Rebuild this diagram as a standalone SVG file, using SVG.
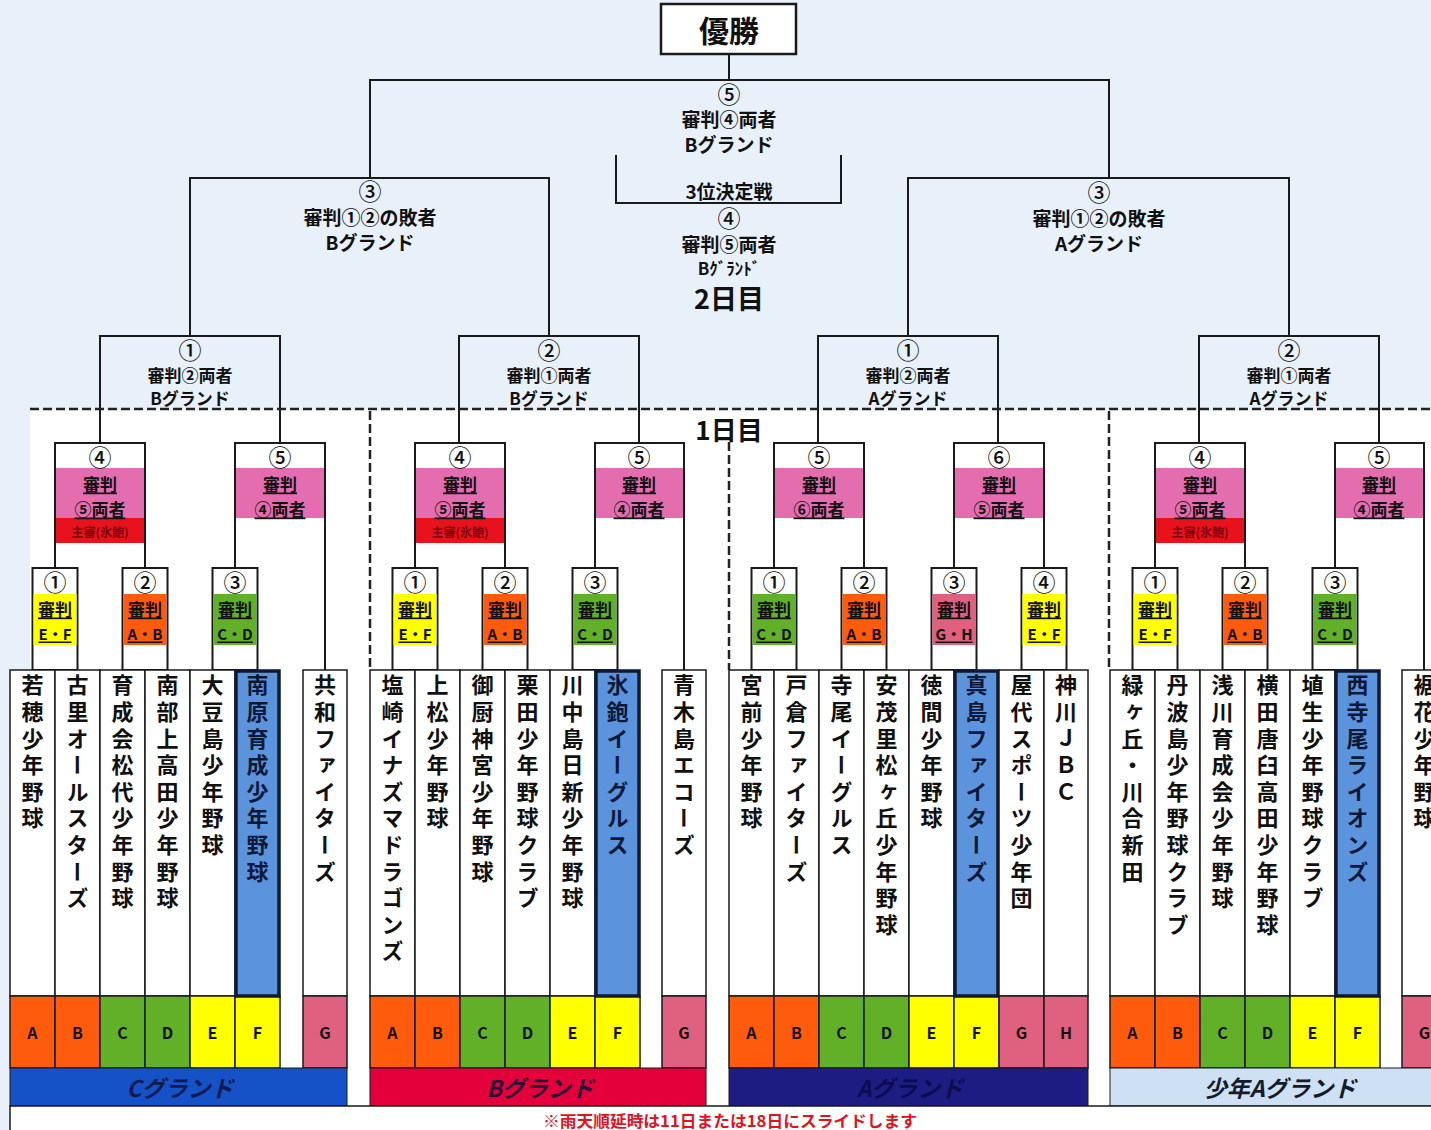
<svg xmlns="http://www.w3.org/2000/svg" width="1431" height="1130" viewBox="0 0 1431 1130">
<style>
.ln{fill:none;stroke:#1a1a1a;stroke-width:2}
.dash{fill:none;stroke:#222;stroke-width:2.5;stroke-dasharray:9 4}
.t{font-family:'Noto Sans CJK JP','Liberation Sans',sans-serif;fill:#111;text-anchor:middle;dominant-baseline:central}
.h{font-size:19px;font-weight:700}
.n{font-size:23px;font-weight:500}
.nb{font-size:23px;font-weight:500}
.box{fill:#fff;stroke:#1a1a1a;stroke-width:2}
.tm{font-family:'Noto Sans CJK JP',sans-serif;font-size:22px;font-weight:700;fill:#111;writing-mode:vertical-rl;letter-spacing:4.6px;text-anchor:start}
.col{fill:#fff;stroke:#1a1a1a;stroke-width:1.5}
.blue{fill:#5b94dc;stroke:#0c1a33;stroke-width:3.5}
.yel{fill:#ffff00}.org{fill:#ff5b0d}.grn{fill:#62b027}.pnk{fill:#e0607f}.mag{fill:#e46db0}.red{fill:#e8121c}
.lb{stroke:#1a1a1a;stroke-width:1.5}
.u{text-decoration:underline}
.b2{font-size:17px;font-weight:700}
.b1{font-size:17px;font-weight:700}
.ef{font-size:15px;font-weight:700}
.lt{font-size:16px;font-weight:700}
.gr{font-size:23px;font-weight:700;font-style:italic}
.sm{font-size:12px;font-weight:700;fill:#7a0010}
</style>
<rect x="0" y="0" width="1431" height="1130" fill="#e8f0f9"/>
<rect x="30" y="410" width="1401" height="720" fill="#ffffff"/>

<g id="connectors">
<path class="ln" d="M729,54 V80 M370,178 V80 H1109 V178"/>
<path class="ln" d="M190,336 V178 H549 V336"/>
<path class="ln" d="M908,336 V178 H1289 V336"/>
<path class="ln" d="M616,155 V203 H841 V155"/>
<path class="ln" d="M100,443 V336 H280 V443"/>
<path class="ln" d="M459,443 V336 H639 V443"/>
<path class="ln" d="M818,443 V336 H998 V443"/>
<path class="ln" d="M1199,443 V336 H1379 V443"/>
<path class="dash" d="M30,409 H1431"/>
<path class="dash" d="M370,411 V670 M729,442 V670 M1109,411 V670"/>
</g>

<g id="champion">
<rect x="661" y="4" width="135" height="50" fill="#fff" stroke="#1a1a1a" stroke-width="2.5"/>
<text class="t" x="729" y="29" font-size="30" font-weight="700">優勝</text>
</g>
<g id="final">
<text class="t n" x="729" y="93">⑤</text>
<text class="t h" x="729" y="118">審判④両者</text>
<text class="t h" x="729" y="143">Bグランド</text>
</g>
<g id="third-place">
<text class="t h" x="729" y="190">3位決定戦</text>
<text class="t n" x="729" y="217">④</text>
<text class="t h" x="729" y="243">審判⑤両者</text>
<text class="t" x="729" y="267" font-size="17" font-weight="700">Bｸﾞﾗﾝﾄﾞ</text>
<text class="t" x="729" y="297" font-size="27" font-weight="700">2日目</text>
</g>
<g id="semi-left">
<text class="t n" x="370" y="190">③</text>
<text class="t h" x="370" y="216">審判①②の敗者</text>
<text class="t h" x="370" y="241">Bグランド</text>
</g>
<g id="semi-right">
<text class="t n" x="1099" y="191">③</text>
<text class="t h" x="1099" y="217">審判①②の敗者</text>
<text class="t h" x="1099" y="242">Aグランド</text>
</g>
<g id="qf1"><text class="t n" x="190" y="349">①</text><text class="t b2" x="190" y="374">審判②両者</text><text class="t b2" x="190" y="397">Bグランド</text></g>
<g id="qf2"><text class="t n" x="549" y="349">②</text><text class="t b2" x="549" y="374">審判①両者</text><text class="t b2" x="549" y="397">Bグランド</text></g>
<g id="qf3"><text class="t n" x="908" y="349">①</text><text class="t b2" x="908" y="374">審判②両者</text><text class="t b2" x="908" y="397">Aグランド</text></g>
<g id="qf4"><text class="t n" x="1289" y="349">②</text><text class="t b2" x="1289" y="374">審判①両者</text><text class="t b2" x="1289" y="397">Aグランド</text></g>
<g id="day1"><rect x="690" y="414" width="78" height="28" fill="#fff"/><text class="t" x="729" y="428" font-size="26" font-weight="700">1日目</text></g>

<!-- Round 2 boxes -->
<g id="c-r2-4">
<rect class="mag" x="55" y="468" width="90" height="50"/><rect class="red" x="55" y="518" width="90" height="25"/>
<path class="ln" d="M55,568 V443 H145 V568"/>
<text class="t nb" x="100" y="456">④</text><text class="t b2 u" x="100" y="483">審判</text><text class="t b2 u" x="100" y="508">⑤両者</text><text class="t sm" x="100" y="531">主審(氷鮑)</text>
</g>
<g id="c-r2-5">
<rect class="mag" x="235" y="468" width="90" height="50"/>
<path class="ln" d="M235,568 V443 H325 V670"/>
<text class="t nb" x="280" y="456">⑤</text><text class="t b2 u" x="280" y="483">審判</text><text class="t b2 u" x="280" y="508">④両者</text>
</g>
<g id="b-r2-4">
<rect class="mag" x="415" y="468" width="90" height="50"/><rect class="red" x="415" y="518" width="90" height="25"/>
<path class="ln" d="M415,568 V443 H505 V568"/>
<text class="t nb" x="460" y="456">④</text><text class="t b2 u" x="460" y="483">審判</text><text class="t b2 u" x="460" y="508">⑤両者</text><text class="t sm" x="460" y="531">主審(氷鮑)</text>
</g>
<g id="b-r2-5">
<rect class="mag" x="595" y="468" width="89" height="50"/>
<path class="ln" d="M595,568 V443 H684 V670"/>
<text class="t nb" x="639" y="456">⑤</text><text class="t b2 u" x="639" y="483">審判</text><text class="t b2 u" x="639" y="508">④両者</text>
</g>
<g id="a-r2-5">
<rect class="mag" x="774" y="468" width="90" height="50"/>
<path class="ln" d="M774,568 V443 H864 V568"/>
<text class="t nb" x="819" y="456">⑤</text><text class="t b2 u" x="819" y="483">審判</text><text class="t b2 u" x="819" y="508">⑥両者</text>
</g>
<g id="a-r2-6">
<rect class="mag" x="954" y="468" width="90" height="50"/>
<path class="ln" d="M954,568 V443 H1044 V568"/>
<text class="t nb" x="999" y="456">⑥</text><text class="t b2 u" x="999" y="483">審判</text><text class="t b2 u" x="999" y="508">⑤両者</text>
</g>
<g id="s-r2-4">
<rect class="mag" x="1155" y="468" width="90" height="50"/><rect class="red" x="1155" y="518" width="90" height="25"/>
<path class="ln" d="M1155,568 V443 H1245 V568"/>
<text class="t nb" x="1200" y="456">④</text><text class="t b2 u" x="1200" y="483">審判</text><text class="t b2 u" x="1200" y="508">⑤両者</text><text class="t sm" x="1200" y="531">主審(氷鮑)</text>
</g>
<g id="s-r2-5">
<rect class="mag" x="1335" y="468" width="89" height="50"/>
<path class="ln" d="M1335,568 V443 H1424 V670"/>
<text class="t nb" x="1379" y="456">⑤</text><text class="t b2 u" x="1379" y="483">審判</text><text class="t b2 u" x="1379" y="508">④両者</text>
</g>

<!-- Round 1 boxes -->
<g id="c-r1-1"><rect class="box" x="32.5" y="568" width="45" height="102"/><rect class="yel" x="33.5" y="594" width="43" height="51"/><text class="t nb" x="55" y="581">①</text><text class="t b1 u" x="55" y="608">審判</text><text class="t ef u" x="55" y="633">E・F</text></g>
<g id="c-r1-2"><rect class="box" x="122.5" y="568" width="45" height="102"/><rect class="org" x="123.5" y="594" width="43" height="51"/><text class="t nb" x="145" y="581">②</text><text class="t b1 u" x="145" y="608">審判</text><text class="t ef u" x="145" y="633">A・B</text></g>
<g id="c-r1-3"><rect class="box" x="212.5" y="568" width="45" height="102"/><rect class="grn" x="213.5" y="594" width="43" height="51"/><text class="t nb" x="235" y="581">③</text><text class="t b1 u" x="235" y="608">審判</text><text class="t ef u" x="235" y="633">C・D</text></g>
<g id="b-r1-1"><rect class="box" x="392.5" y="568" width="45" height="102"/><rect class="yel" x="393.5" y="594" width="43" height="51"/><text class="t nb" x="415" y="581">①</text><text class="t b1 u" x="415" y="608">審判</text><text class="t ef u" x="415" y="633">E・F</text></g>
<g id="b-r1-2"><rect class="box" x="482.5" y="568" width="45" height="102"/><rect class="org" x="483.5" y="594" width="43" height="51"/><text class="t nb" x="505" y="581">②</text><text class="t b1 u" x="505" y="608">審判</text><text class="t ef u" x="505" y="633">A・B</text></g>
<g id="b-r1-3"><rect class="box" x="572.5" y="568" width="45" height="102"/><rect class="grn" x="573.5" y="594" width="43" height="51"/><text class="t nb" x="595" y="581">③</text><text class="t b1 u" x="595" y="608">審判</text><text class="t ef u" x="595" y="633">C・D</text></g>
<g id="a-r1-1"><rect class="box" x="751.5" y="568" width="45" height="102"/><rect class="grn" x="752.5" y="594" width="43" height="51"/><text class="t nb" x="774" y="581">①</text><text class="t b1 u" x="774" y="608">審判</text><text class="t ef u" x="774" y="633">C・D</text></g>
<g id="a-r1-2"><rect class="box" x="841.5" y="568" width="45" height="102"/><rect class="org" x="842.5" y="594" width="43" height="51"/><text class="t nb" x="864" y="581">②</text><text class="t b1 u" x="864" y="608">審判</text><text class="t ef u" x="864" y="633">A・B</text></g>
<g id="a-r1-3"><rect class="box" x="931.5" y="568" width="45" height="102"/><rect class="pnk" x="932.5" y="594" width="43" height="51"/><text class="t nb" x="954" y="581">③</text><text class="t b1 u" x="954" y="608">審判</text><text class="t ef u" x="954" y="633">G・H</text></g>
<g id="a-r1-4"><rect class="box" x="1021.5" y="568" width="45" height="102"/><rect class="yel" x="1022.5" y="594" width="43" height="51"/><text class="t nb" x="1044" y="581">④</text><text class="t b1 u" x="1044" y="608">審判</text><text class="t ef u" x="1044" y="633">E・F</text></g>
<g id="s-r1-1"><rect class="box" x="1132.5" y="568" width="45" height="102"/><rect class="yel" x="1133.5" y="594" width="43" height="51"/><text class="t nb" x="1155" y="581">①</text><text class="t b1 u" x="1155" y="608">審判</text><text class="t ef u" x="1155" y="633">E・F</text></g>
<g id="s-r1-2"><rect class="box" x="1222.5" y="568" width="45" height="102"/><rect class="org" x="1223.5" y="594" width="43" height="51"/><text class="t nb" x="1245" y="581">②</text><text class="t b1 u" x="1245" y="608">審判</text><text class="t ef u" x="1245" y="633">A・B</text></g>
<g id="s-r1-3"><rect class="box" x="1312.5" y="568" width="45" height="102"/><rect class="grn" x="1313.5" y="594" width="43" height="51"/><text class="t nb" x="1335" y="581">③</text><text class="t b1 u" x="1335" y="608">審判</text><text class="t ef u" x="1335" y="633">C・D</text></g>

<!-- Teams: C ground -->
<g id="team-c-a"><rect class="col" x="10" y="670" width="45" height="326"/><text class="tm" x="32.5" y="674">若穂少年野球</text><rect class="org lb" x="10" y="996" width="45" height="72"/><text class="t lt" x="32.5" y="1032">A</text></g>
<g id="team-c-b"><rect class="col" x="55" y="670" width="45" height="326"/><text class="tm" x="77.5" y="674">古里オールスターズ</text><rect class="org lb" x="55" y="996" width="45" height="72"/><text class="t lt" x="77.5" y="1032">B</text></g>
<g id="team-c-c"><rect class="col" x="100" y="670" width="45" height="326"/><text class="tm" x="122.5" y="674">育成会松代少年野球</text><rect class="grn lb" x="100" y="996" width="45" height="72"/><text class="t lt" x="122.5" y="1032">C</text></g>
<g id="team-c-d"><rect class="col" x="145" y="670" width="45" height="326"/><text class="tm" x="167.5" y="674">南部上高田少年野球</text><rect class="grn lb" x="145" y="996" width="45" height="72"/><text class="t lt" x="167.5" y="1032">D</text></g>
<g id="team-c-e"><rect class="col" x="190" y="670" width="45" height="326"/><text class="tm" x="212.5" y="674">大豆島少年野球</text><rect class="yel lb" x="190" y="996" width="45" height="72"/><text class="t lt" x="212.5" y="1032">E</text></g>
<g id="team-c-f"><rect class="yel lb" x="235" y="996" width="45" height="72"/><rect class="blue" x="236" y="671" width="43" height="325"/><text class="tm" x="257.5" y="674" style="fill:#0a1838">南原育成少年野球</text><text class="t lt" x="257.5" y="1032">F</text></g>
<g id="team-c-g"><rect class="col" x="303" y="670" width="44" height="326"/><text class="tm" x="325" y="674">共和ファイターズ</text><rect class="pnk lb" x="303" y="996" width="44" height="72"/><text class="t lt" x="325" y="1032">G</text></g>

<!-- Teams: B ground -->
<g id="team-b-a"><rect class="col" x="370" y="670" width="45" height="326"/><text class="tm" x="392.5" y="674">塩崎イナズマドラゴンズ</text><rect class="org lb" x="370" y="996" width="45" height="72"/><text class="t lt" x="392.5" y="1032">A</text></g>
<g id="team-b-b"><rect class="col" x="415" y="670" width="45" height="326"/><text class="tm" x="437.5" y="674">上松少年野球</text><rect class="org lb" x="415" y="996" width="45" height="72"/><text class="t lt" x="437.5" y="1032">B</text></g>
<g id="team-b-c"><rect class="col" x="460" y="670" width="45" height="326"/><text class="tm" x="482.5" y="674">御厨神宮少年野球</text><rect class="grn lb" x="460" y="996" width="45" height="72"/><text class="t lt" x="482.5" y="1032">C</text></g>
<g id="team-b-d"><rect class="col" x="505" y="670" width="45" height="326"/><text class="tm" x="527.5" y="674">栗田少年野球クラブ</text><rect class="grn lb" x="505" y="996" width="45" height="72"/><text class="t lt" x="527.5" y="1032">D</text></g>
<g id="team-b-e"><rect class="col" x="550" y="670" width="45" height="326"/><text class="tm" x="572.5" y="674">川中島日新少年野球</text><rect class="yel lb" x="550" y="996" width="45" height="72"/><text class="t lt" x="572.5" y="1032">E</text></g>
<g id="team-b-f"><rect class="yel lb" x="595" y="996" width="45" height="72"/><rect class="blue" x="596" y="671" width="43" height="325"/><text class="tm" x="617.5" y="674" style="fill:#0a1838">氷鉋イーグルス</text><text class="t lt" x="617.5" y="1032">F</text></g>
<g id="team-b-g"><rect class="col" x="662" y="670" width="44" height="326"/><text class="tm" x="684" y="674">青木島エコーズ</text><rect class="pnk lb" x="662" y="996" width="44" height="72"/><text class="t lt" x="684" y="1032">G</text></g>

<!-- Teams: A ground -->
<g id="team-a-a"><rect class="col" x="729" y="670" width="45" height="326"/><text class="tm" x="751.5" y="674">宮前少年野球</text><rect class="org lb" x="729" y="996" width="45" height="72"/><text class="t lt" x="751.5" y="1032">A</text></g>
<g id="team-a-b"><rect class="col" x="774" y="670" width="45" height="326"/><text class="tm" x="796.5" y="674">戸倉ファイターズ</text><rect class="org lb" x="774" y="996" width="45" height="72"/><text class="t lt" x="796.5" y="1032">B</text></g>
<g id="team-a-c"><rect class="col" x="819" y="670" width="45" height="326"/><text class="tm" x="841.5" y="674">寺尾イーグルス</text><rect class="grn lb" x="819" y="996" width="45" height="72"/><text class="t lt" x="841.5" y="1032">C</text></g>
<g id="team-a-d"><rect class="col" x="864" y="670" width="45" height="326"/><text class="tm" x="886.5" y="674">安茂里松ヶ丘少年野球</text><rect class="grn lb" x="864" y="996" width="45" height="72"/><text class="t lt" x="886.5" y="1032">D</text></g>
<g id="team-a-e"><rect class="col" x="909" y="670" width="45" height="326"/><text class="tm" x="931.5" y="674">徳間少年野球</text><rect class="yel lb" x="909" y="996" width="45" height="72"/><text class="t lt" x="931.5" y="1032">E</text></g>
<g id="team-a-f"><rect class="yel lb" x="954" y="996" width="45" height="72"/><rect class="blue" x="955" y="671" width="43" height="325"/><text class="tm" x="976.5" y="674" style="fill:#0a1838">真島ファイターズ</text><text class="t lt" x="976.5" y="1032">F</text></g>
<g id="team-a-g"><rect class="col" x="999" y="670" width="45" height="326"/><text class="tm" x="1021.5" y="674">屋代スポーツ少年団</text><rect class="pnk lb" x="999" y="996" width="45" height="72"/><text class="t lt" x="1021.5" y="1032">G</text></g>
<g id="team-a-h"><rect class="col" x="1044" y="670" width="44" height="326"/><text class="tm" x="1066" y="674">神川ＪＢＣ</text><rect class="pnk lb" x="1044" y="996" width="44" height="72"/><text class="t lt" x="1066" y="1032">H</text></g>

<!-- Teams: Shonen A ground -->
<g id="team-s-a"><rect class="col" x="1110" y="670" width="45" height="326"/><text class="tm" x="1132.5" y="674">緑ヶ丘・川合新田</text><rect class="org lb" x="1110" y="996" width="45" height="72"/><text class="t lt" x="1132.5" y="1032">A</text></g>
<g id="team-s-b"><rect class="col" x="1155" y="670" width="45" height="326"/><text class="tm" x="1177.5" y="674">丹波島少年野球クラブ</text><rect class="org lb" x="1155" y="996" width="45" height="72"/><text class="t lt" x="1177.5" y="1032">B</text></g>
<g id="team-s-c"><rect class="col" x="1200" y="670" width="45" height="326"/><text class="tm" x="1222.5" y="674">浅川育成会少年野球</text><rect class="grn lb" x="1200" y="996" width="45" height="72"/><text class="t lt" x="1222.5" y="1032">C</text></g>
<g id="team-s-d"><rect class="col" x="1245" y="670" width="45" height="326"/><text class="tm" x="1267.5" y="674">横田唐臼高田少年野球</text><rect class="grn lb" x="1245" y="996" width="45" height="72"/><text class="t lt" x="1267.5" y="1032">D</text></g>
<g id="team-s-e"><rect class="col" x="1290" y="670" width="45" height="326"/><text class="tm" x="1312.5" y="674">埴生少年野球クラブ</text><rect class="yel lb" x="1290" y="996" width="45" height="72"/><text class="t lt" x="1312.5" y="1032">E</text></g>
<g id="team-s-f"><rect class="yel lb" x="1335" y="996" width="45" height="72"/><rect class="blue" x="1336" y="671" width="43" height="325"/><text class="tm" x="1357.5" y="674" style="fill:#0a1838">西寺尾ライオンズ</text><text class="t lt" x="1357.5" y="1032">F</text></g>
<g id="team-s-g"><rect class="col" x="1402" y="670" width="45" height="326"/><text class="tm" x="1424.5" y="674">裾花少年野球</text><rect class="pnk lb" x="1402" y="996" width="45" height="72"/><text class="t lt" x="1424.5" y="1032">G</text></g>

<!-- Ground bars -->
<g id="ground-c"><rect x="10" y="1068" width="337" height="38" fill="#1552c8" stroke="#1a1a1a" stroke-width="1"/><text class="t gr" x="180" y="1087" style="fill:#0f1a55">Cグランド</text></g>
<g id="ground-b"><rect x="370" y="1068" width="336" height="38" fill="#e4003a" stroke="#1a1a1a" stroke-width="1"/><text class="t gr" x="540" y="1087" style="fill:#2a1036">Bグランド</text></g>
<g id="ground-a"><rect x="729" y="1068" width="359" height="38" fill="#1c1c82" stroke="#1a1a1a" stroke-width="1"/><text class="t gr" x="910" y="1087" style="fill:#0c0c50">Aグランド</text></g>
<g id="ground-s"><rect x="1110" y="1068" width="330" height="38" fill="#cde0f4" stroke="#1a1a1a" stroke-width="1"/><text class="t gr" x="1280" y="1087" style="fill:#161a2a">少年Aグランド</text></g>

<g id="footer"><rect x="10" y="1106" width="1430" height="30" fill="#fff" stroke="#1a1a1a" stroke-width="1.5"/><text class="t" x="730" y="1120" font-size="16" font-weight="700" style="fill:#e0141e" textLength="374" lengthAdjust="spacingAndGlyphs">※雨天順延時は11日または18日にスライドします</text></g>
</svg>
